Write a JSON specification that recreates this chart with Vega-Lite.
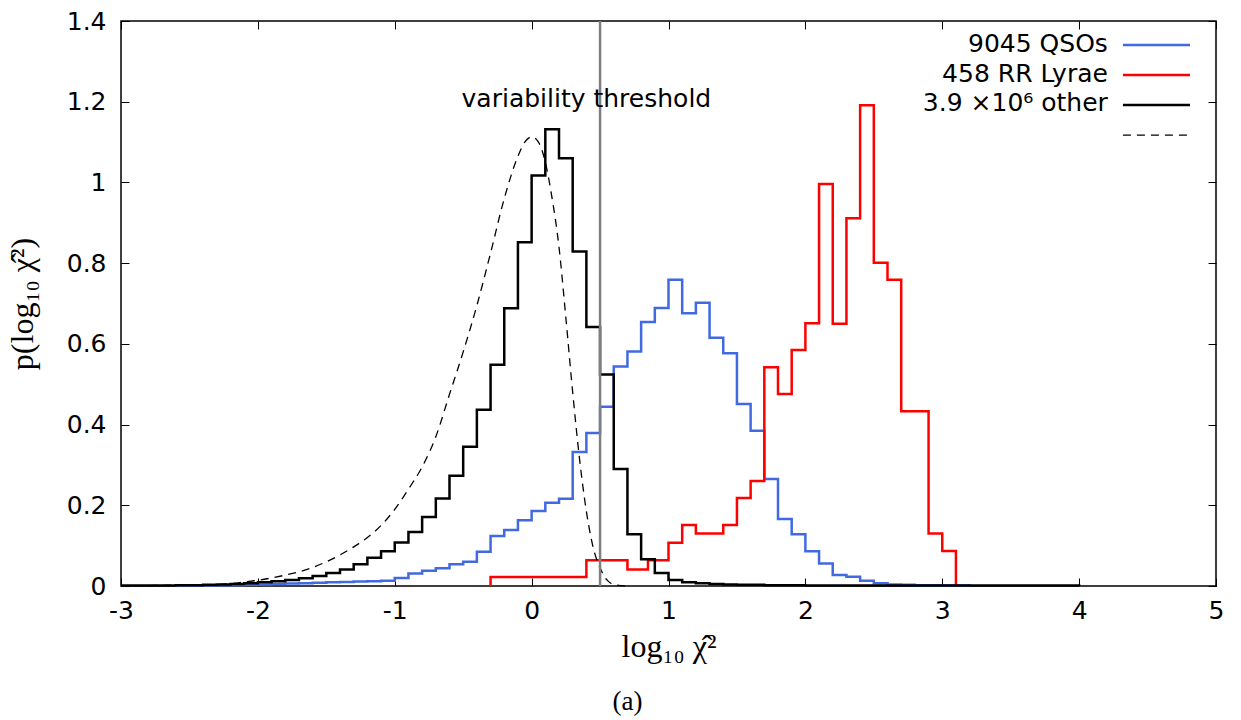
{
  "$schema": "https://vega.github.io/schema/vega-lite/v6.json",
  "width": 1095,
  "height": 565,
  "autosize": "none",
  "padding": {"left": 121, "top": 21, "right": 25, "bottom": 134},
  "background": "white",
  "config": {
    "view": {"stroke": "black", "strokeWidth": 1.5},
    "axis": {
      "domain": false, "grid": false, "tickColor": "black", "tickWidth": 1, "tickSize": -8,
      "labelFont": "DejaVu Sans", "labelFontSize": 25, "labelColor": "black",
      "labelFlush": false, "labelOverlap": false,
      "titleFont": "Liberation Serif", "titleFontSize": 32, "titleFontWeight": "normal", "titleColor": "black"
    }
  },
  "title": {"text": "(a)", "orient": "bottom", "anchor": "middle", "font": "Liberation Serif", "fontSize": 27, "fontWeight": "normal", "color": "black", "dx": -41, "offset": 27},
  "datasets": {
    "hist": [
      {"s": "QSO", "x": -2.6, "p": 0.001}, {"s": "QSO", "x": -2.5, "p": 0.001}, {"s": "QSO", "x": -2.4, "p": 0.002},
      {"s": "QSO", "x": -2.3, "p": 0.002}, {"s": "QSO", "x": -2.2, "p": 0.002}, {"s": "QSO", "x": -2.1, "p": 0.003},
      {"s": "QSO", "x": -2.0, "p": 0.004}, {"s": "QSO", "x": -1.9, "p": 0.005}, {"s": "QSO", "x": -1.8, "p": 0.006},
      {"s": "QSO", "x": -1.7, "p": 0.007}, {"s": "QSO", "x": -1.6, "p": 0.008}, {"s": "QSO", "x": -1.5, "p": 0.009},
      {"s": "QSO", "x": -1.4, "p": 0.010}, {"s": "QSO", "x": -1.3, "p": 0.011}, {"s": "QSO", "x": -1.2, "p": 0.012},
      {"s": "QSO", "x": -1.1, "p": 0.013}, {"s": "QSO", "x": -1.0, "p": 0.020}, {"s": "QSO", "x": -0.9, "p": 0.031},
      {"s": "QSO", "x": -0.8, "p": 0.038}, {"s": "QSO", "x": -0.7, "p": 0.044}, {"s": "QSO", "x": -0.6, "p": 0.054},
      {"s": "QSO", "x": -0.5, "p": 0.060}, {"s": "QSO", "x": -0.4, "p": 0.085}, {"s": "QSO", "x": -0.3, "p": 0.124},
      {"s": "QSO", "x": -0.2, "p": 0.139}, {"s": "QSO", "x": -0.1, "p": 0.163}, {"s": "QSO", "x": 0.0, "p": 0.186},
      {"s": "QSO", "x": 0.1, "p": 0.206}, {"s": "QSO", "x": 0.2, "p": 0.216}, {"s": "QSO", "x": 0.3, "p": 0.332},
      {"s": "QSO", "x": 0.4, "p": 0.379}, {"s": "QSO", "x": 0.5, "p": 0.444}, {"s": "QSO", "x": 0.6, "p": 0.544},
      {"s": "QSO", "x": 0.7, "p": 0.581}, {"s": "QSO", "x": 0.8, "p": 0.654}, {"s": "QSO", "x": 0.9, "p": 0.689},
      {"s": "QSO", "x": 1.0, "p": 0.759}, {"s": "QSO", "x": 1.1, "p": 0.676}, {"s": "QSO", "x": 1.2, "p": 0.702},
      {"s": "QSO", "x": 1.3, "p": 0.615}, {"s": "QSO", "x": 1.4, "p": 0.577}, {"s": "QSO", "x": 1.5, "p": 0.451},
      {"s": "QSO", "x": 1.6, "p": 0.385}, {"s": "QSO", "x": 1.7, "p": 0.265}, {"s": "QSO", "x": 1.8, "p": 0.166},
      {"s": "QSO", "x": 1.9, "p": 0.128}, {"s": "QSO", "x": 2.0, "p": 0.086}, {"s": "QSO", "x": 2.1, "p": 0.056},
      {"s": "QSO", "x": 2.2, "p": 0.027}, {"s": "QSO", "x": 2.3, "p": 0.023}, {"s": "QSO", "x": 2.4, "p": 0.013},
      {"s": "QSO", "x": 2.5, "p": 0.007}, {"s": "QSO", "x": 2.6, "p": 0.004}, {"s": "QSO", "x": 2.7, "p": 0.003},
      {"s": "QSO", "x": 2.8, "p": 0.002}, {"s": "QSO", "x": 2.9, "p": 0.002}, {"s": "QSO", "x": 3.0, "p": 0.001},
      {"s": "QSO", "x": 3.1, "p": 0.001}, {"s": "QSO", "x": 3.2, "p": 0.0},

      {"s": "RR", "x": -0.3, "p": 0.0}, {"s": "RR", "x": -0.3, "p": 0.022}, {"s": "RR", "x": 0.4, "p": 0.064},
      {"s": "RR", "x": 0.7, "p": 0.041}, {"s": "RR", "x": 0.85, "p": 0.064}, {"s": "RR", "x": 1.0, "p": 0.107},
      {"s": "RR", "x": 1.1, "p": 0.151}, {"s": "RR", "x": 1.2, "p": 0.130}, {"s": "RR", "x": 1.4, "p": 0.151},
      {"s": "RR", "x": 1.5, "p": 0.218}, {"s": "RR", "x": 1.6, "p": 0.260}, {"s": "RR", "x": 1.7, "p": 0.542},
      {"s": "RR", "x": 1.8, "p": 0.476}, {"s": "RR", "x": 1.9, "p": 0.585}, {"s": "RR", "x": 2.0, "p": 0.651},
      {"s": "RR", "x": 2.1, "p": 0.996}, {"s": "RR", "x": 2.2, "p": 0.650}, {"s": "RR", "x": 2.3, "p": 0.911},
      {"s": "RR", "x": 2.4, "p": 1.191}, {"s": "RR", "x": 2.5, "p": 0.801}, {"s": "RR", "x": 2.6, "p": 0.759},
      {"s": "RR", "x": 2.7, "p": 0.433}, {"s": "RR", "x": 2.9, "p": 0.130}, {"s": "RR", "x": 3.0, "p": 0.087},
      {"s": "RR", "x": 3.1, "p": 0.0},

      {"s": "other", "x": -3.0, "p": 0.001}, {"s": "other", "x": -2.9, "p": 0.001}, {"s": "other", "x": -2.8, "p": 0.001},
      {"s": "other", "x": -2.7, "p": 0.001}, {"s": "other", "x": -2.6, "p": 0.002}, {"s": "other", "x": -2.5, "p": 0.002},
      {"s": "other", "x": -2.4, "p": 0.003}, {"s": "other", "x": -2.3, "p": 0.004}, {"s": "other", "x": -2.2, "p": 0.005},
      {"s": "other", "x": -2.1, "p": 0.007}, {"s": "other", "x": -2.0, "p": 0.009}, {"s": "other", "x": -1.9, "p": 0.012},
      {"s": "other", "x": -1.8, "p": 0.015}, {"s": "other", "x": -1.7, "p": 0.019}, {"s": "other", "x": -1.6, "p": 0.025},
      {"s": "other", "x": -1.5, "p": 0.032}, {"s": "other", "x": -1.4, "p": 0.041}, {"s": "other", "x": -1.3, "p": 0.054},
      {"s": "other", "x": -1.2, "p": 0.070}, {"s": "other", "x": -1.1, "p": 0.086}, {"s": "other", "x": -1.0, "p": 0.108},
      {"s": "other", "x": -0.9, "p": 0.134}, {"s": "other", "x": -0.8, "p": 0.171}, {"s": "other", "x": -0.7, "p": 0.217},
      {"s": "other", "x": -0.6, "p": 0.273}, {"s": "other", "x": -0.5, "p": 0.345}, {"s": "other", "x": -0.4, "p": 0.437},
      {"s": "other", "x": -0.3, "p": 0.548}, {"s": "other", "x": -0.2, "p": 0.688}, {"s": "other", "x": -0.1, "p": 0.852},
      {"s": "other", "x": 0.0, "p": 1.017}, {"s": "other", "x": 0.1, "p": 1.132}, {"s": "other", "x": 0.2, "p": 1.060},
      {"s": "other", "x": 0.3, "p": 0.829}, {"s": "other", "x": 0.4, "p": 0.642}, {"s": "other", "x": 0.5, "p": 0.524},
      {"s": "other", "x": 0.6, "p": 0.290}, {"s": "other", "x": 0.7, "p": 0.128}, {"s": "other", "x": 0.8, "p": 0.066},
      {"s": "other", "x": 0.9, "p": 0.032}, {"s": "other", "x": 1.0, "p": 0.015}, {"s": "other", "x": 1.1, "p": 0.009},
      {"s": "other", "x": 1.2, "p": 0.007}, {"s": "other", "x": 1.3, "p": 0.005}, {"s": "other", "x": 1.4, "p": 0.004},
      {"s": "other", "x": 1.5, "p": 0.003}, {"s": "other", "x": 1.6, "p": 0.003}, {"s": "other", "x": 1.7, "p": 0.002},
      {"s": "other", "x": 1.8, "p": 0.002}, {"s": "other", "x": 1.9, "p": 0.002}, {"s": "other", "x": 2.0, "p": 0.001},
      {"s": "other", "x": 2.5, "p": 0.001}, {"s": "other", "x": 3.0, "p": 0.001}, {"s": "other", "x": 3.5, "p": 0.001},
      {"s": "other", "x": 4.0, "p": 0.0}
    ],
    "fit": [
      {"x": -3.0, "p": 0.000}, {"x": -2.8, "p": 0.001}, {"x": -2.6, "p": 0.002}, {"x": -2.4, "p": 0.003},
      {"x": -2.3, "p": 0.004}, {"x": -2.2, "p": 0.006}, {"x": -2.1, "p": 0.010}, {"x": -2.0, "p": 0.014},
      {"x": -1.9, "p": 0.020}, {"x": -1.8, "p": 0.027}, {"x": -1.7, "p": 0.035}, {"x": -1.6, "p": 0.046},
      {"x": -1.5, "p": 0.060}, {"x": -1.4, "p": 0.077}, {"x": -1.3, "p": 0.097}, {"x": -1.2, "p": 0.120},
      {"x": -1.1, "p": 0.150}, {"x": -1.0, "p": 0.190}, {"x": -0.9, "p": 0.240}, {"x": -0.8, "p": 0.295},
      {"x": -0.7, "p": 0.370}, {"x": -0.6, "p": 0.475}, {"x": -0.5, "p": 0.580}, {"x": -0.4, "p": 0.695},
      {"x": -0.3, "p": 0.825}, {"x": -0.2, "p": 0.960}, {"x": -0.1, "p": 1.065}, {"x": -0.05, "p": 1.100},
      {"x": 0.0, "p": 1.113}, {"x": 0.05, "p": 1.100}, {"x": 0.1, "p": 1.050}, {"x": 0.15, "p": 0.960},
      {"x": 0.2, "p": 0.840}, {"x": 0.25, "p": 0.665}, {"x": 0.3, "p": 0.480}, {"x": 0.35, "p": 0.315},
      {"x": 0.4, "p": 0.185}, {"x": 0.45, "p": 0.095}, {"x": 0.5, "p": 0.045}, {"x": 0.55, "p": 0.015},
      {"x": 0.6, "p": 0.004}, {"x": 0.7, "p": 0.000}
    ]
  },
  "resolve": {"axis": {"x": "independent", "y": "independent"}},
  "layer": [
    {
      "data": {"name": "hist"},
      "transform": [{"filter": "datum.s === 'QSO'"}],
      "mark": {"type": "line", "interpolate": "step-after", "color": "#4169e1", "strokeWidth": 2.5},
      "encoding": {
        "x": {"field": "x", "type": "quantitative", "scale": {"domain": [-3, 5], "nice": false, "zero": false},
              "axis": {"orient": "bottom", "values": [-3, -2, -1, 0, 1, 2, 3, 4, 5], "labelExpr": "'' + datum.value", "labelPadding": 20, "title": "log₁₀ χ̂²", "titlePadding": 8}},
        "y": {"field": "p", "type": "quantitative", "scale": {"domain": [0, 1.4], "nice": false},
              "axis": {"orient": "left", "values": [0, 0.2, 0.4, 0.6, 0.8, 1, 1.2, 1.4], "labelExpr": "'' + datum.value", "labelPadding": 23, "title": "p(log₁₀ χ̂²)", "titlePadding": 27}}
      }
    },
    {
      "data": {"name": "hist"},
      "transform": [{"filter": "datum.s === 'RR'"}],
      "mark": {"type": "line", "interpolate": "step-after", "color": "#ff0000", "strokeWidth": 2.5},
      "encoding": {
        "x": {"field": "x", "type": "quantitative", "axis": null},
        "y": {"field": "p", "type": "quantitative", "axis": null}
      }
    },
    {
      "data": {"name": "hist"},
      "transform": [{"filter": "datum.s === 'other'"}],
      "mark": {"type": "line", "interpolate": "step-after", "color": "#000000", "strokeWidth": 2.5},
      "encoding": {
        "x": {"field": "x", "type": "quantitative", "axis": null},
        "y": {"field": "p", "type": "quantitative", "axis": null}
      }
    },
    {
      "data": {"name": "fit"},
      "mark": {"type": "line", "interpolate": "monotone", "color": "#000000", "strokeWidth": 1.3, "strokeDash": [8, 6]},
      "encoding": {
        "x": {"field": "x", "type": "quantitative", "axis": null},
        "y": {"field": "p", "type": "quantitative",
              "axis": {"orient": "right", "values": [0, 0.2, 0.4, 0.6, 0.8, 1, 1.2, 1.4], "labels": false, "title": null}}
      }
    },
    {
      "data": {"values": [{}]},
      "mark": {"type": "rule", "color": "#7f7f7f", "strokeWidth": 2.5},
      "encoding": {
        "x": {"datum": 0.5, "type": "quantitative",
              "axis": {"orient": "top", "values": [-3, -2, -1, 0, 1, 2, 3, 4, 5], "labels": false, "title": null}}
      }
    },
    {
      "data": {"values": [{}]},
      "mark": {"type": "text", "text": "variability threshold", "font": "DejaVu Sans", "fontSize": 25, "color": "black", "align": "center", "baseline": "alphabetic"},
      "encoding": {
        "x": {"datum": 0.4, "type": "quantitative", "axis": null},
        "y": {"datum": 1.186, "type": "quantitative", "axis": null}
      }
    },
    {
      "data": {"values": [{}]},
      "mark": {"type": "rule", "color": "#4169e1", "strokeWidth": 2.5},
      "encoding": {
        "x": {"datum": 4.32, "type": "quantitative", "axis": null}, "x2": {"datum": 4.81},
        "y": {"datum": 1.3405, "type": "quantitative", "axis": null}
      }
    },
    {
      "data": {"values": [{}]},
      "mark": {"type": "rule", "color": "#ff0000", "strokeWidth": 2.5},
      "encoding": {
        "x": {"datum": 4.32, "type": "quantitative", "axis": null}, "x2": {"datum": 4.81},
        "y": {"datum": 1.2661, "type": "quantitative", "axis": null}
      }
    },
    {
      "data": {"values": [{}]},
      "mark": {"type": "rule", "color": "#000000", "strokeWidth": 2.5},
      "encoding": {
        "x": {"datum": 4.32, "type": "quantitative", "axis": null}, "x2": {"datum": 4.81},
        "y": {"datum": 1.1917, "type": "quantitative", "axis": null}
      }
    },
    {
      "data": {"values": [{}]},
      "mark": {"type": "rule", "color": "#000000", "strokeWidth": 1.3, "strokeDash": [8, 6]},
      "encoding": {
        "x": {"datum": 4.32, "type": "quantitative", "axis": null}, "x2": {"datum": 4.81},
        "y": {"datum": 1.1173, "type": "quantitative", "axis": null}
      }
    },
    {
      "data": {"values": [{"label": "9045 QSOs", "ly": 1.324}, {"label": "458 RR Lyrae", "ly": 1.2495}, {"label": "3.9 ×10⁶ other", "ly": 1.1776}]},
      "mark": {"type": "text", "font": "DejaVu Sans", "fontSize": 25, "color": "black", "align": "right", "baseline": "alphabetic"},
      "encoding": {
        "x": {"datum": 4.21, "type": "quantitative", "axis": null},
        "y": {"field": "ly", "type": "quantitative", "axis": null},
        "text": {"field": "label"}
      }
    }
  ]
}
